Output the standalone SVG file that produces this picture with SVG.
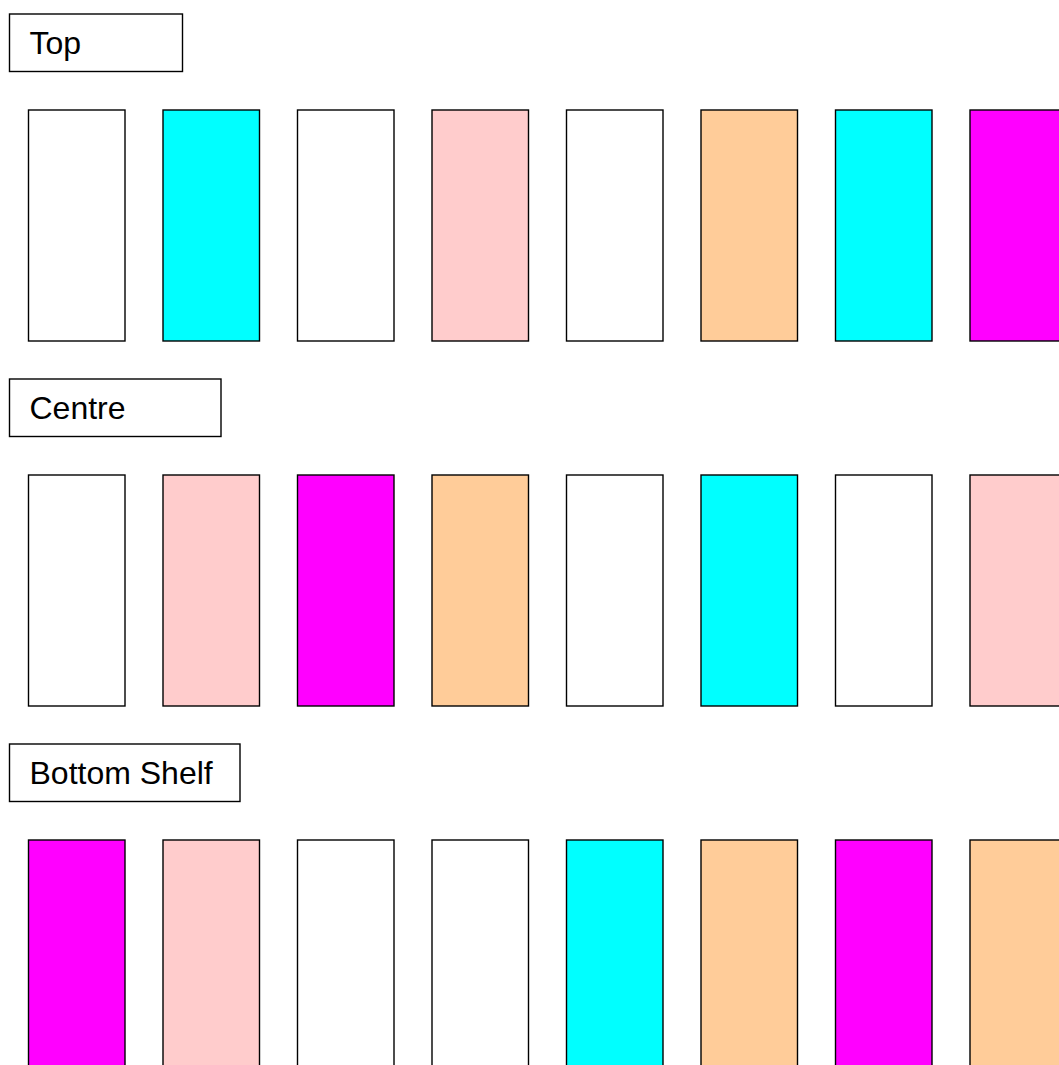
<svg xmlns="http://www.w3.org/2000/svg" width="1059" height="1065" viewBox="0 0 1059 1065">
<style>
.s{stroke:#000;stroke-width:1.4}
.lbl{fill:#fff}
.w{fill:#fff}.c{fill:#00ffff}.p{fill:#ffcccc}.o{fill:#ffcc99}.m{fill:#ff00ff}
text{font-family:"Liberation Sans",Arial,sans-serif;font-size:32px;fill:#000}
</style>
<rect width="1059" height="1065" fill="#fff"/>
<g id="label-top"><rect class="s lbl" x="9.5" y="14" width="173" height="57.5"/><text x="29.5" y="53.5">Top</text></g>
<g id="label-centre"><rect class="s lbl" x="9.5" y="379" width="211.5" height="57.5"/><text x="29.5" y="418.5">Centre</text></g>
<g id="label-bottom"><rect class="s lbl" x="9.5" y="744" width="230.5" height="57.5"/><text x="29.5" y="783.5">Bottom Shelf</text></g>
<g id="row-top">
<rect id="t1" class="s w" x="28.5" y="110" width="96.5" height="231"/>
<rect id="t2" class="s c" x="163" y="110" width="96.5" height="231"/>
<rect id="t3" class="s w" x="297.5" y="110" width="96.5" height="231"/>
<rect id="t4" class="s p" x="432" y="110" width="96.5" height="231"/>
<rect id="t5" class="s w" x="566.5" y="110" width="96.5" height="231"/>
<rect id="t6" class="s o" x="701" y="110" width="96.5" height="231"/>
<rect id="t7" class="s c" x="835.5" y="110" width="96.5" height="231"/>
<rect id="t8" class="s m" x="970" y="110" width="96.5" height="231"/>
</g>
<g id="row-centre">
<rect id="c1" class="s w" x="28.5" y="475" width="96.5" height="231"/>
<rect id="c2" class="s p" x="163" y="475" width="96.5" height="231"/>
<rect id="c3" class="s m" x="297.5" y="475" width="96.5" height="231"/>
<rect id="c4" class="s o" x="432" y="475" width="96.5" height="231"/>
<rect id="c5" class="s w" x="566.5" y="475" width="96.5" height="231"/>
<rect id="c6" class="s c" x="701" y="475" width="96.5" height="231"/>
<rect id="c7" class="s w" x="835.5" y="475" width="96.5" height="231"/>
<rect id="c8" class="s p" x="970" y="475" width="96.5" height="231"/>
</g>
<g id="row-bottom">
<rect id="b1" class="s m" x="28.5" y="840" width="96.5" height="231"/>
<rect id="b2" class="s p" x="163" y="840" width="96.5" height="231"/>
<rect id="b3" class="s w" x="297.5" y="840" width="96.5" height="231"/>
<rect id="b4" class="s w" x="432" y="840" width="96.5" height="231"/>
<rect id="b5" class="s c" x="566.5" y="840" width="96.5" height="231"/>
<rect id="b6" class="s o" x="701" y="840" width="96.5" height="231"/>
<rect id="b7" class="s m" x="835.5" y="840" width="96.5" height="231"/>
<rect id="b8" class="s o" x="970" y="840" width="96.5" height="231"/>
</g>
<g id="connectors"/>
</svg>
